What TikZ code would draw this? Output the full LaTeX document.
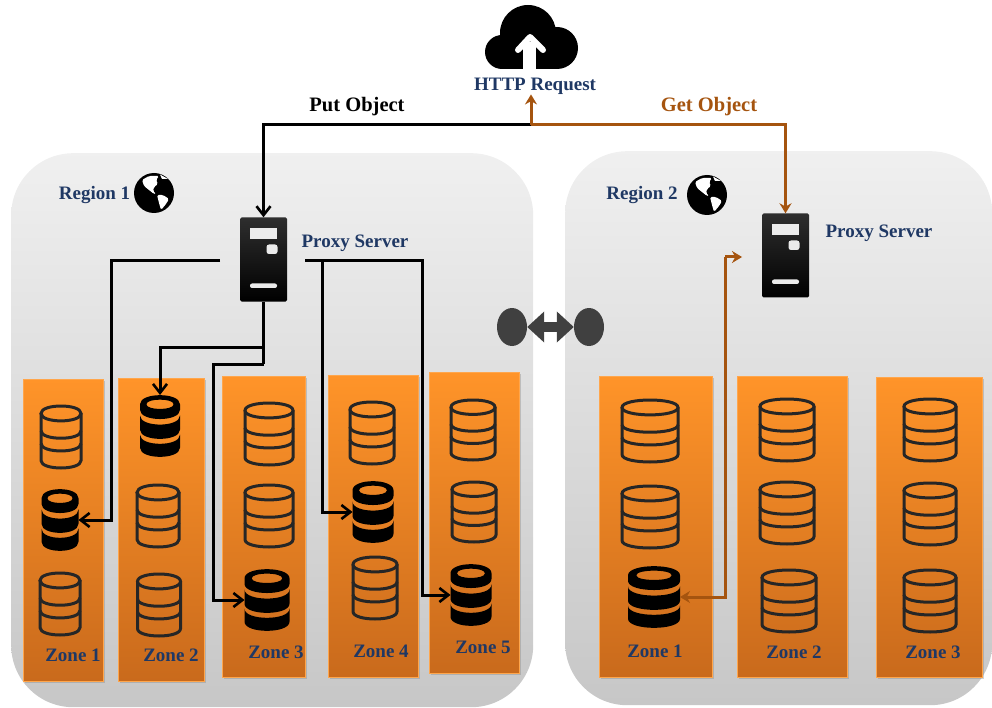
\documentclass[tikz,border=0pt]{standalone}
\usepackage{fontspec}
\usepackage{xcolor}
\usetikzlibrary{arrows.meta,shadows,shapes.geometric}
\setmainfont{Liberation Serif}[Ligatures=TeX]
\definecolor{navytext}{HTML}{1F3864}
\definecolor{getbrown}{HTML}{A5540F}
\definecolor{dbink}{HTML}{262626}
\definecolor{zonetop}{HTML}{FF9429}
\definecolor{zonebot}{HTML}{C96A1C}
\tikzset{
  >={Stealth[length=2.5mm]},
  regionbox/.style={anchor=north west,inner sep=0pt,rounded corners=62pt,top color=black!6,bottom color=black!22},
  zonebox/.style={anchor=north west,inner sep=0pt,draw=orange!70,line width=0.6pt,top color=zonetop,bottom color=zonebot,
    drop shadow={shadow xshift=1.5pt,shadow yshift=-1.5pt,opacity=.35}},
  lbl/.style={font=\bfseries\fontsize{19}{22}\selectfont,text=navytext,inner sep=0pt},
  actlbl/.style={font=\bfseries\fontsize{20.5}{24}\selectfont,inner sep=0pt},
  dbmark/.style={inner sep=0pt,outer sep=0pt},
  putline/.style={line width=3pt,black,-{Straight Barb[length=9pt,width=14pt,line width=2.6pt]}},
  plainline/.style={line width=3pt,black},
  getline/.style={line width=3pt,getbrown,-{Stealth[length=10pt,width=12pt]}},
}

% open database drum: name, x, y, width, height
\newcommand{\dbopen}[5]{%
  \node[dbmark,minimum width=#4pt,minimum height=#5pt] (#1) at (#2,#3) {};
  \begin{scope}[shift={(#2,#3)},xscale=#4/2,yscale=#5/2,draw=dbink,line width=3pt]
    \draw (-1,-.76) .. controls (-1,-1.08) and (1,-1.08) .. (1,-.76)
      .. controls (1,-.44) and (-1,-.44) .. (-1,-.76) -- cycle;
    \draw (-1,-.76) -- (-1,.76) .. controls (-1,1.08) and (1,1.08) .. (1,.76) -- (1,-.76);
    \draw (-1,-.2) .. controls (-1,.12) and (1,.12) .. (1,-.2);
    \draw (-1,.21) .. controls (-1,.53) and (1,.53) .. (1,.21);
  \end{scope}}
% filled database drum: name, x, y, width, height
\newcommand{\dbfull}[5]{%
  \node[dbmark,minimum width=#4pt,minimum height=#5pt] (#1) at (#2,#3) {};
  \begin{scope}[shift={(#2,#3)},xscale=#4/2,yscale=#5/2]
    \fill[black,even odd rule] (-1,-.7) .. controls (-1,-1.093) and (1,-1.093) .. (1,-.7)
      -- (1,-.52) .. controls (1,-.127) and (-1,-.127) .. (-1,-.52) -- cycle
      (-.68,-.7) .. controls (-.68,-.9) and (.68,-.9) .. (.68,-.7)
      .. controls (.68,-.5) and (-.68,-.5) .. (-.68,-.7) -- cycle;
    \fill[black] (-1,-.34) .. controls (-1,.053) and (1,.053) .. (1,-.34)
      -- (1,.12) .. controls (1,.513) and (-1,.513) .. (-1,.12) -- cycle;
    \fill[black] (-1,.28) .. controls (-1,.673) and (1,.673) .. (1,.28)
      -- (1,.7) .. controls (1,1.093) and (-1,1.093) .. (-1,.7) -- cycle;
  \end{scope}}
% server tower: name, x, y of the centre
\newcommand{\srvtower}[3]{%
  \node[inner sep=0pt,minimum width=47pt,minimum height=84pt,rounded corners=1.5pt,top color=black!82,bottom color=black] (#1) at (#2,#3) {};
  \begin{scope}[shift={(#2,#3)}]
    \fill[white!92!black] (-13.5,-31) rectangle (13.5,-20.5);
    \fill[white!92!black,rounded corners=2.5pt] (3,-15) rectangle (14,-5.5);
    \fill[white!92!black,rounded corners=2pt] (-13.5,24) rectangle (13.5,28.5);
  \end{scope}}
% globe: name, x, y of the centre
\newcommand{\globeicon}[3]{%
  \node[circle,fill=black,inner sep=0pt,minimum size=40pt] (#1) at (#2,#3) {};
  \begin{scope}[shift={(#2,#3)}]
    \fill[white,rounded corners=1.5pt] (-12,-13) -- (-5,-17) -- (5,-17) -- (2,-13) -- (4,-9) -- (0,-6) -- (-1,-2) -- (2,1) -- (0,1) -- (-5,-3) -- (-10,-7) -- cycle;
    \fill[white,rounded corners=1.5pt] (3,2) -- (9,2) -- (15,6) -- (12,11) -- (7,17) -- (5,10) -- cycle;
    \fill[white] (6,-18.5) -- (14,-14) -- (8,-14) -- cycle;
  \end{scope}}

\begin{document}
\begin{tikzpicture}[x=1pt,y=-1pt]
  \useasboundingbox (0,0) rectangle (992,708);

  % Regions
  \node[regionbox,minimum width=522pt,minimum height=554pt] (region1) at (11,153) {};
  \node[regionbox,minimum width=427pt,minimum height=554pt] (region2) at (565,151) {};

  % Zones
  \foreach \zname/\zx/\zy/\zw/\zh in {zA/23/379/80/302,zB/118/378/86/303,zC/222/376/83/301,zD/328/375/90/302,zE/429/372/90/301,
      yA/599/376/113/301,yB/737/376/110/301,yC/876/377/106/300}
    \node[zonebox,minimum width=\zw pt,minimum height=\zh pt] (\zname) at (\zx,\zy) {};

  % Databases, region 1
  \dbopen{a1}{61}{437}{40}{62}
  \dbfull{a2}{60}{520}{37}{62}
  \dbopen{a3}{60}{604}{40}{62}
  \dbfull{b1}{160}{426}{40}{62}
  \dbopen{b2}{158}{516}{42}{62}
  \dbopen{b3}{159}{605}{43}{62}
  \dbopen{c1}{269}{434}{48}{62}
  \dbopen{c2}{269}{516}{48}{62}
  \dbfull{c3}{267}{600}{45}{62}
  \dbopen{d1}{372}{433}{44}{62}
  \dbfull{d2}{373}{512}{41}{62}
  \dbopen{d3}{375}{588}{44}{62}
  \dbopen{e1}{473}{430}{44}{60}
  \dbopen{e2}{474}{512}{44}{60}
  \dbfull{e3}{471}{595}{41}{62}

  % Databases, region 2
  \dbopen{f1}{650}{431}{56}{62}
  \dbopen{f2}{650}{517}{56}{62}
  \dbfull{f3}{654}{597}{52}{62}
  \dbopen{g1}{787}{430}{54}{62}
  \dbopen{g2}{787}{513}{54}{62}
  \dbopen{g3}{789}{601}{54}{62}
  \dbopen{h1}{930}{430}{52}{62}
  \dbopen{h2}{930}{514}{52}{62}
  \dbopen{h3}{930}{601}{52}{62}

  % Zone labels
  \node[lbl] (zl1) at (73,655) {Zone 1};
  \node[lbl] (zl2) at (171,655) {Zone 2};
  \node[lbl] (zl3) at (276,652) {Zone 3};
  \node[lbl] (zl4) at (381,651) {Zone 4};
  \node[lbl] (zl5) at (483,647) {Zone 5};
  \node[lbl] (zl6) at (655,651) {Zone 1};
  \node[lbl] (zl7) at (794,652) {Zone 2};
  \node[lbl] (zl8) at (933,652) {Zone 3};

  % Servers, globes and their labels
  \srvtower{srvA}{263.5}{259.5}
  \srvtower{srvB}{785.5}{255.5}
  \node[lbl] (proxyA) at (355,243) {Proxy Server};
  \node[lbl] (proxyB) at (879,233) {Proxy Server};
  \node[lbl] (regA) at (94.5,195) {Region 1};
  \node[lbl] (regB) at (642,195) {Region 2};
  \globeicon{globeA}{154}{193}
  \globeicon{globeB}{707}{195}

  % Cloud
  \fill[black] (528,33) circle (28) (502,52) circle (17) (557,48) circle (21);
  \fill[black] (502,40) rectangle (557,69);
  \fill[white] (523,69) rectangle (536,42);
  \draw[white,line width=6pt,line cap=round,line join=round] (518,50) -- (530,37) -- (543,50);
  \node[lbl] (http) at (535,86) {HTTP Request};
  \node[actlbl,text=black] (putlbl) at (357,107) {Put Object};
  \node[actlbl,text=getbrown] (getlbl) at (709,107) {Get Object};

  % Helper points
  \coordinate (jn) at (531,125);
  \coordinate (leftport) at (220,261);
  \coordinate (rightport) at (305,261);
  \coordinate (turnA) at (111,261);
  \coordinate (turnE) at (422,261);
  \coordinate (forkD) at (322,261);
  \coordinate (forkB) at (263.5,347);
  \coordinate (forkC) at (263.5,364);
  \coordinate (laneC) at (213,364);
  \coordinate (laneB) at (160,347);
  \coordinate (srvport) at (742,257);
  \coordinate (laneF) at (725,257);

  % Put path
  \draw[putline] (jn) -| (srvA.north);
  \draw[putline] (leftport) -- (turnA) |- (a2.east);
  \draw[putline] (rightport) -- (turnE) |- (e3.west);
  \draw[putline] (forkD) |- (d2.west);
  \draw[plainline] (srvA.south) -- (forkC);
  \draw[putline] (forkB) -- (laneB) -- (b1.north);
  \draw[putline] (forkC) -- (laneC) |- (c3.west);

  % Get path
  \draw[getline] (jn) -- (jn |- http.south);
  \draw[getline] (jn) -| (srvB.north);
  \draw[getline] (laneF) -- (srvport);
  \draw[getline] (laneF) |- (f3.east);

  % Link between regions
  \node[ellipse,fill=black!75,inner sep=0pt,minimum width=30pt,minimum height=38pt] (linkA) at (512,327) {};
  \node[ellipse,fill=black!75,inner sep=0pt,minimum width=30pt,minimum height=38pt] (linkB) at (589,327) {};
  \draw[black!75,line width=9.5pt,{Triangle[length=17pt,width=30pt]}-{Triangle[length=17pt,width=30pt]}] (linkA) -- (linkB);
\end{tikzpicture}
\end{document}
